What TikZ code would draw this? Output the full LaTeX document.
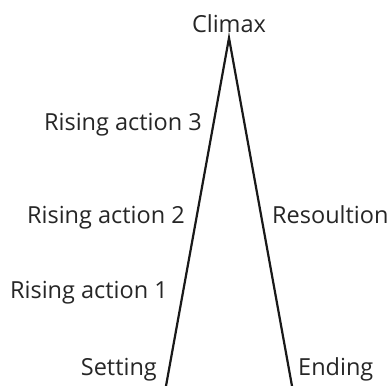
\documentclass[tikz,border=0pt]{standalone}
\usepackage{fontspec}
\setmainfont{Open Sans}
\begin{document}
\begin{tikzpicture}[x=1bp,y=-1bp,
  lbl/.style={inner sep=0pt,font=\fontsize{23.5bp}{28bp}\selectfont,text=black!85},
  arc/.style={line width=2.2bp,line join=miter,black!90}]
\useasboundingbox (0,0) rectangle (390,386);
\coordinate (apex) at (229,38);
\coordinate (start) at (166,386);
\coordinate (finish) at (292,386);
\draw[arc] (start) -- (apex) -- (finish);
\node[lbl,anchor=base] (climax) at (229,32) {Climax};
\node[lbl,anchor=base east] (r3) at (202,130) {Rising action 3};
\node[lbl,anchor=base east] (r2) at (185,223) {Rising action 2};
\node[lbl,anchor=base east] (r1) at (168,298) {Rising action 1};
\node[lbl,anchor=base east] (setting) at (157,375) {Setting};
\node[lbl,anchor=base west] (res) at (272,223) {Resoultion};
\node[lbl,anchor=base west] (ending) at (298,375) {Ending};
\end{tikzpicture}
\end{document}
